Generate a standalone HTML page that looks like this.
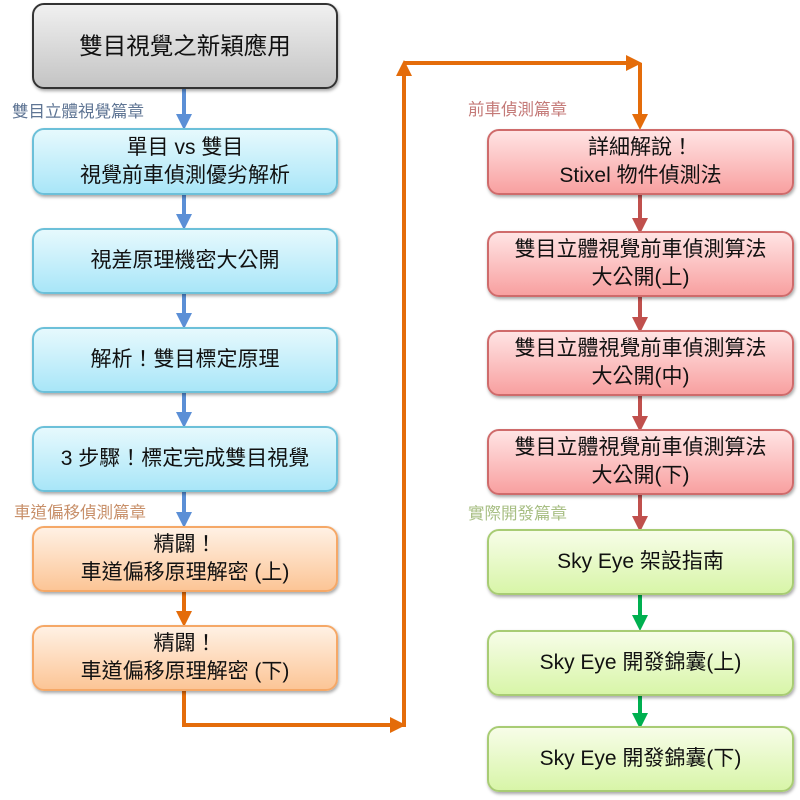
<!DOCTYPE html>
<html><head><meta charset="utf-8"><style>
body{margin:0;width:800px;height:800px;background:#fff;position:relative;overflow:hidden;font-family:"Liberation Sans","Noto Sans CJK TC",sans-serif;}
.b{position:absolute;box-sizing:border-box;border-radius:12px;display:flex;align-items:center;justify-content:center;text-align:center;font-size:21px;line-height:28px;color:#111;box-shadow:1px 2px 3px rgba(0,0,0,0.35);}
.g{background:linear-gradient(#f0f0f0,#c4c4c4);border:2px solid #333;font-size:23.5px;}
.bl{background:linear-gradient(#e6f9fd,#a9e6f8);border:2px solid #6cc0d9;}
.o{background:linear-gradient(#fff1e4,#fcc596);border:2px solid #f5a867;}
.r{background:linear-gradient(#ffe4e4,#f8a0a0);border:2px solid #cf6b6b;}
.gr{background:linear-gradient(#f7fde8,#d8f5a8);border:2px solid #a8cc74;}
.l{position:absolute;font-size:16.5px;}
svg{position:absolute;left:0;top:0}
</style></head><body>
<svg width="800" height="800">
<defs>
<marker id="ab" markerWidth="4" markerHeight="4" refX="2" refY="2" orient="auto" markerUnits="strokeWidth"><path d="M0,0L4,2L0,4z" fill="#5b8fd6"/></marker>
<marker id="ao" markerWidth="4" markerHeight="4" refX="2" refY="2" orient="auto" markerUnits="strokeWidth"><path d="M0,0L4,2L0,4z" fill="#e46c0a"/></marker>
<marker id="ar" markerWidth="4" markerHeight="4" refX="2" refY="2" orient="auto" markerUnits="strokeWidth"><path d="M0,0L4,2L0,4z" fill="#c0504d"/></marker>
<marker id="ag" markerWidth="4" markerHeight="4" refX="2" refY="2" orient="auto" markerUnits="strokeWidth"><path d="M0,0L4,2L0,4z" fill="#00b050"/></marker>
</defs>
<g stroke-width="4" fill="none">
<path d="M184 88V122" stroke="#5b8fd6" marker-end="url(#ab)"/>
<path d="M184 195V222" stroke="#5b8fd6" marker-end="url(#ab)"/>
<path d="M184 294V321" stroke="#5b8fd6" marker-end="url(#ab)"/>
<path d="M184 393V420" stroke="#5b8fd6" marker-end="url(#ab)"/>
<path d="M184 492V520" stroke="#5b8fd6" marker-end="url(#ab)"/>
<path d="M184 592V619" stroke="#e46c0a" marker-end="url(#ao)"/>
<path d="M184 690V725H398" stroke="#e46c0a" marker-end="url(#ao)"/>
<path d="M404 727V68" stroke="#e46c0a" marker-end="url(#ao)"/>
<path d="M404 63H634" stroke="#e46c0a" marker-end="url(#ao)"/>
<path d="M640 63V122" stroke="#e46c0a" marker-end="url(#ao)"/>
<path d="M640 195V226" stroke="#c0504d" marker-end="url(#ar)"/>
<path d="M640 297V325" stroke="#c0504d" marker-end="url(#ar)"/>
<path d="M640 396V424" stroke="#c0504d" marker-end="url(#ar)"/>
<path d="M640 495V524" stroke="#c0504d" marker-end="url(#ar)"/>
<path d="M640 595V623" stroke="#00b050" marker-end="url(#ag)"/>
<path d="M640 694V721" stroke="#00b050" marker-end="url(#ag)"/>
</g></svg>
<div class="b g" style="left:32px;top:3px;width:306px;height:86px">雙目視覺之新穎應用</div>
<div class="l" style="left:12px;top:98px;color:#5f7594">雙目立體視覺篇章</div>
<div class="b bl" style="left:32px;top:128px;width:306px;height:67px">單目 vs 雙目<br>視覺前車偵測優劣解析</div>
<div class="b bl" style="left:32px;top:228px;width:306px;height:66px">視差原理機密大公開</div>
<div class="b bl" style="left:32px;top:327px;width:306px;height:66px">解析！雙目標定原理</div>
<div class="b bl" style="left:32px;top:426px;width:306px;height:66px">3 步驟！標定完成雙目視覺</div>
<div class="l" style="left:14px;top:499px;color:#c8906a">車道偏移偵測篇章</div>
<div class="b o" style="left:32px;top:526px;width:306px;height:66px">精闢！<br>車道偏移原理解密 (上)</div>
<div class="b o" style="left:32px;top:625px;width:306px;height:66px">精闢！<br>車道偏移原理解密 (下)</div>
<div class="l" style="left:468px;top:96px;color:#c47a78">前車偵測篇章</div>
<div class="b r" style="left:487px;top:129px;width:307px;height:66px">詳細解說！<br>Stixel 物件偵測法</div>
<div class="b r" style="left:487px;top:231px;width:307px;height:66px">雙目立體視覺前車偵測算法<br>大公開(上)</div>
<div class="b r" style="left:487px;top:330px;width:307px;height:66px">雙目立體視覺前車偵測算法<br>大公開(中)</div>
<div class="b r" style="left:487px;top:429px;width:307px;height:66px">雙目立體視覺前車偵測算法<br>大公開(下)</div>
<div class="l" style="left:468px;top:500px;color:#a8bf84">實際開發篇章</div>
<div class="b gr" style="left:487px;top:529px;width:307px;height:66px">Sky Eye 架設指南</div>
<div class="b gr" style="left:487px;top:630px;width:307px;height:66px">Sky Eye 開發錦囊(上)</div>
<div class="b gr" style="left:487px;top:726px;width:307px;height:66px">Sky Eye 開發錦囊(下)</div>
</body></html>
